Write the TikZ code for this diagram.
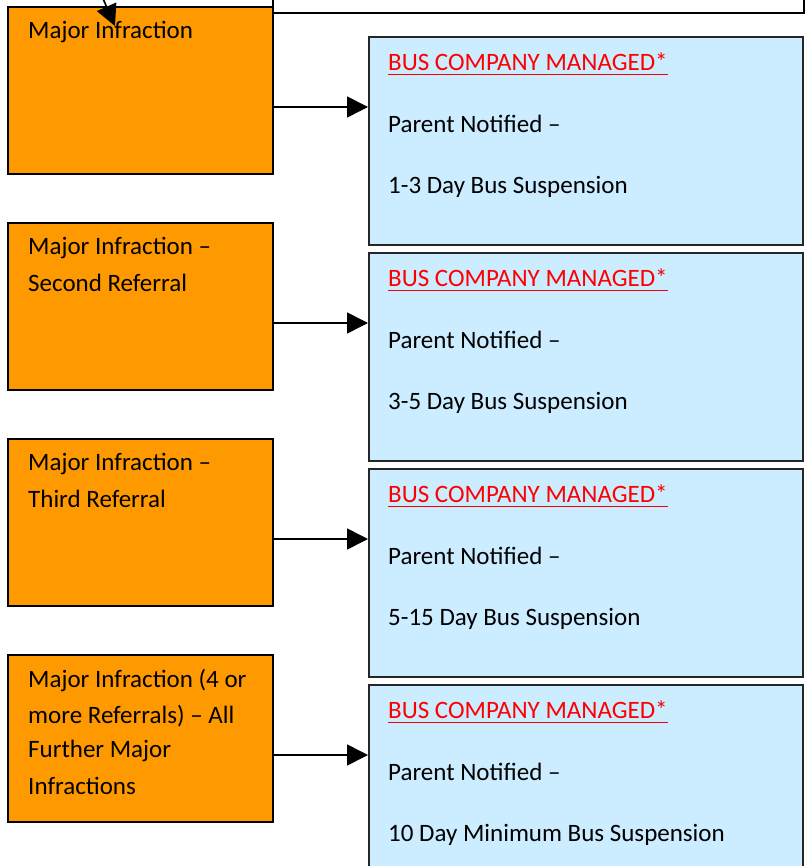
\documentclass[tikz,border=0pt]{standalone}
\usepackage{fontspec}
\setmainfont{Carlito}
\usetikzlibrary{arrows.meta,calc}
\definecolor{orangebox}{RGB}{255,153,0}
\definecolor{bluebox}{RGB}{204,236,255}
\definecolor{redtxt}{RGB}{255,0,0}
\begin{document}
\begin{tikzpicture}[x=1pt,y=-1pt,
  obox/.style={draw=black,line width=2pt,fill=orangebox,anchor=north west,minimum width=265pt,minimum height=167pt,inner sep=0pt},
  bbox/.style={draw=black!85,line width=2pt,fill=bluebox,anchor=north west,minimum width=434pt,minimum height=208pt,inner sep=0pt},
  wbox/.style={draw=black,line width=2pt,fill=white,anchor=north west,minimum width=531pt,minimum height=40pt,inner sep=0pt},
  txt/.style={anchor=west,inner sep=0pt,font=\fontsize{25}{35}\selectfont},
  hdr/.style={txt,text=redtxt},
  conn/.style={line width=1.6pt,-{Triangle[length=21pt,width=21pt]}}]
\useasboundingbox (0,0) rectangle (808,866);
\clip (0,0) rectangle (808,866);
% top partial box
\node[wbox] (top) at (272,-28) {};
% orange boxes
\node[obox] (o1) at (7,6) {};
\node[obox] (o2) at (7,222) {};
\node[obox] (o3) at (7,438) {};
\node[obox] (o4) at (7,654) {};
% blue boxes
\node[bbox] (b1) at (368,36) {};
\node[bbox] (b2) at (368,252) {};
\node[bbox] (b3) at (368,468) {};
\node[bbox] (b4) at (368,684) {};
% orange texts
\node[txt] (t1a) at (28,32) {Major Infraction};
\node[txt] (t2a) at (28,248) {Major Infraction –};
\node[txt] (t2b) at (28,283) {Second Referral};
\node[txt] (t3a) at (28,464) {Major Infraction –};
\node[txt] (t3b) at (28,499) {Third Referral};
\node[txt] (t4a) at (28,680) {Major Infraction (4 or};
\node[txt] (t4b) at (28,716) {more Referrals) – All};
\node[txt] (t4c) at (28,751) {Further Major};
\node[txt] (t4d) at (28,786) {Infractions};
% blue texts
\foreach \b/\y/\s in {1/36/1-3 Day Bus Suspension,2/252/3-5 Day Bus Suspension,3/468/5-15 Day Bus Suspension,4/684/10 Day Minimum Bus Suspension}{
  \node[hdr] (h\b) at (388,\y+26) {BUS COMPANY MANAGED*};
  \draw[redtxt,line width=0.9pt] (h\b.south west) ++(0,3) -- ($(h\b.south east)+(0,3)$);
  \node[txt] (p\b) at (388,\y+88) {Parent Notified –};
  \node[txt] (s\b) at (388,\y+151) {\s};
}
% connectors
\foreach \i/\y in {1/107,2/323,3/539,4/755}{
  \coordinate (a\i) at (272,\y);
  \draw[conn] (a\i) -- (b\i.west |- a\i);
}
\coordinate (in0) at (97,-15);
\coordinate (in1) at (115,26);
\draw[conn] (in0) -- (in1);
\end{tikzpicture}
\end{document}
